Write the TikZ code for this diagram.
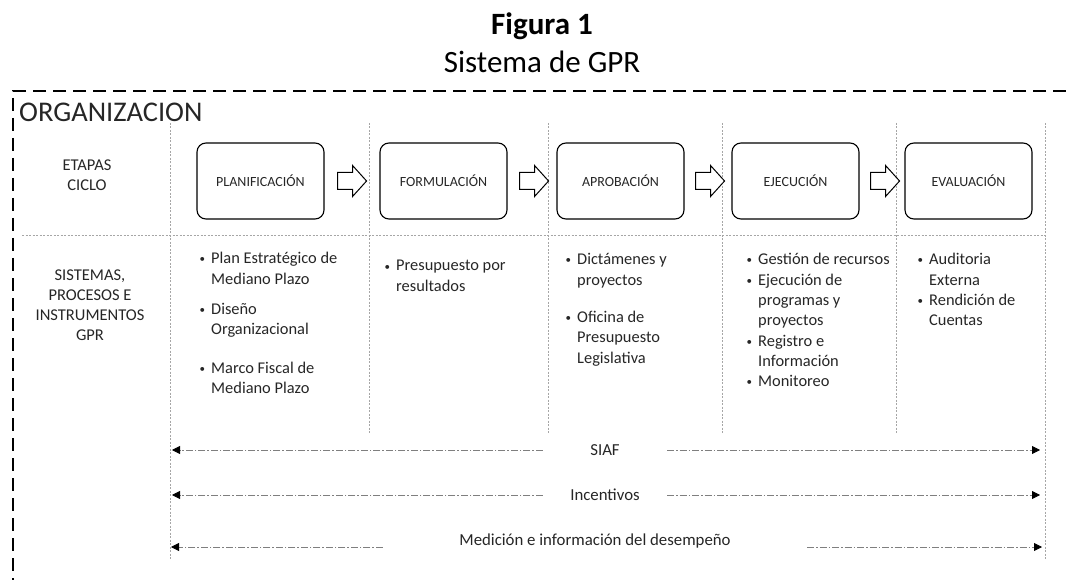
\documentclass[tikz,border=0pt]{standalone}
\usepackage{fontspec}
\setmainfont{Carlito}
\usetikzlibrary{arrows.meta,positioning}
\definecolor{txt}{HTML}{262626}
\definecolor{gridgray}{HTML}{A6A6A6}
\definecolor{dashgray}{HTML}{7F7F7F}
\newcommand{\blist}[1]{\begin{tabular}[t]{@{}p{13pt}@{}l@{}}#1\end{tabular}}
\newcommand{\bdot}{\hspace*{1.5pt}\raisebox{1pt}{\fontsize{11}{11}\selectfont •}}

\begin{document}
\begin{tikzpicture}[x=1pt, y=-1pt,
  box/.style={draw, line width=1.1pt, rounded corners=9pt, minimum width=127pt, minimum height=76pt, font=\fontsize{14}{17}\selectfont, text=txt, inner sep=0pt},
  rowlbl/.style={align=center, font=\fontsize{16.5}{20}\selectfont, text=txt},
  lst/.style={anchor=base west, inner sep=0pt, font=\fontsize{16.4}{20.3}\selectfont, text=txt},
  lbl/.style={font=\fontsize{16.8}{20}\selectfont, text=txt, inner sep=0pt},
  grid/.style={gridgray, line width=0.7pt, dash pattern=on 2pt off 1.5pt},
  border/.style={line width=2.2pt, dash pattern=on 13pt off 7pt},
  dd/.style={dashgray, line width=0.8pt, dash pattern=on 7pt off 2pt on 1.5pt off 2pt, -{Triangle[length=8pt, width=8pt, color=black]}},
  blockarr/.pic={\draw[line width=1pt, fill=white] (0,-8.5) -- (15,-8.5) -- (15,-15.5) -- (29,0) -- (15,15.5) -- (15,8.5) -- (0,8.5) -- cycle;}
]
\useasboundingbox (0,0) rectangle (1066,580);

\node[font=\bfseries\fontsize{31}{36}\selectfont, anchor=base] (figTitle) at (542,35) {Figura 1};
\node[font=\fontsize{31}{36}\selectfont, anchor=base] (figSub) at (542,73) {Sistema de GPR};

\draw[border] (1066,91) -- (13,91) -- (13,580);
\node[font=\fontsize{28.5}{32}\selectfont, text=txt, anchor=base west, inner sep=0pt] (org) at (19,122) {ORGANIZACION};

\foreach \x in {369,548,722,896} \draw[grid] (\x,123) -- (\x,433);
\foreach \x in {170,1045} \draw[grid] (\x,123) -- (\x,560);
\draw[grid] (22,235) -- (1045,235);

\node[rowlbl] (etapas) at (87,175) {ETAPAS\\CICLO};
\node[rowlbl] (sistemas) at (90,305) {SISTEMAS,\\PROCESOS E\\INSTRUMENTOS\\GPR};

\node[box] (plan) at (260.5,181) {PLANIFICACIÓN};
\node[box] (form) at (443.5,181) {FORMULACIÓN};
\node[box] (aprob) at (620.5,181) {APROBACIÓN};
\node[box] (ejec) at (795.5,181) {EJECUCIÓN};
\node[box] (eval) at (968.5,181) {EVALUACIÓN};
\pic at ([xshift=13pt]plan.east) {blockarr};
\pic at ([xshift=12pt]form.east) {blockarr};
\pic at ([xshift=11pt]aprob.east) {blockarr};
\pic at ([xshift=11pt]ejec.east) {blockarr};

\node[lst] (planList) at (198,264) {\blist{\bdot & Plan Estratégico de\\ & Mediano Plazo\\[10pt]
  \bdot & Diseño\\ & Organizacional\\[18pt]
  \bdot & Marco Fiscal de\\ & Mediano Plazo}};
\node[lst] (formList) at (383,271) {\blist{\bdot & Presupuesto por\\ & resultados}};
\node[lst] (aprobList) at (564,265) {\blist{\bdot & Dictámenes y\\ & proyectos\\[17pt]
  \bdot & Oficina de\\ & Presupuesto\\ & Legislativa}};
\node[lst] (ejecList) at (745,265) {\blist{\bdot & Gestión de recursos\\
  \bdot & Ejecución de\\ & programas y\\ & proyectos\\
  \bdot & Registro e\\ & Información\\
  \bdot & Monitoreo}};
\node[lst] (evalList) at (916,265) {\blist{\bdot & Auditoria\\ & Externa\\
  \bdot & Rendición de\\ & Cuentas}};

\coordinate (siafL) at (172,450);
\coordinate (siafR) at (1040,450);
\node[lbl, minimum width=124pt] (siaf) at (605,450) {SIAF};
\draw[dd] (siaf.west) -- (siafL);
\draw[dd] (siaf.east) -- (siafR);

\coordinate (incL) at (172,495);
\coordinate (incR) at (1040,495);
\node[lbl, minimum width=124pt] (inc) at (605,495) {Incentivos};
\draw[dd] (inc.west) -- (incL);
\draw[dd] (inc.east) -- (incR);

\coordinate (medL) at (171,547);
\coordinate (medR) at (1042,547);
\node[lbl, minimum width=424pt] (med) at (595,541) {Medición e información del desempeño};
\draw[dd] ([yshift=-6pt]med.west) -- (medL);
\draw[dd] ([yshift=-6pt]med.east) -- (medR);
\end{tikzpicture}
\end{document}
